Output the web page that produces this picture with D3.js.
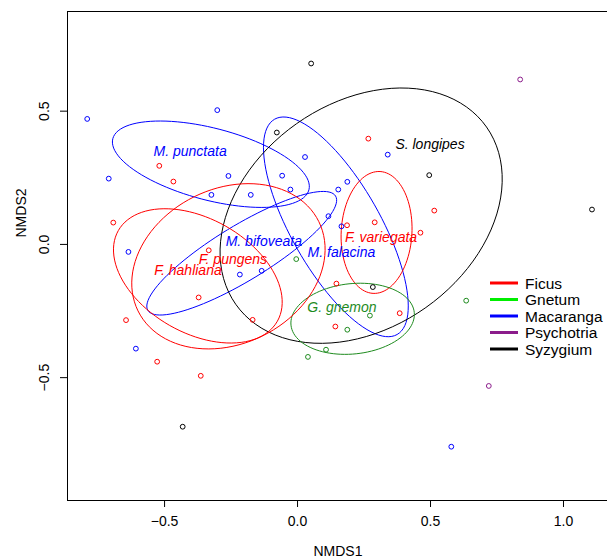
<!DOCTYPE html>
<html>
<head>
<meta charset="utf-8">
<script src="https://cdn.jsdelivr.net/npm/d3@7"></script>
<style>
  body { margin: 0; background: #fff; }
  text { font-family: "Liberation Sans", Arial, Helvetica, sans-serif; }
</style>
</head>
<body>
<div id="chart"></div>
<script>
// NMDS site scores, one array per genus: [NMDS1, NMDS2]
const ficus = [
  [-0.518, 0.293], [-0.465, 0.234], [-0.691, 0.080], [-0.332, -0.024],
  [-0.370, -0.201], [-0.643, -0.286], [-0.167, -0.285], [-0.526, -0.442],
  [-0.362, -0.495], [0.268, 0.395], [0.516, 0.125], [0.188, 0.070],
  [0.292, 0.081], [0.464, 0.042], [0.148, -0.149], [0.386, -0.260], [0.144, -0.310]
];
const gnetum = [
  [-0.003, -0.057], [0.636, -0.213], [0.274, -0.269], [0.189, -0.322],
  [0.109, -0.397], [0.041, -0.424]
];
const macaranga = [
  [-0.789, 0.469], [-0.300, 0.502], [-0.708, 0.245], [0.030, 0.326],
  [0.341, 0.335], [-0.258, 0.255], [-0.056, 0.256], [-0.322, 0.184],
  [-0.174, 0.184], [-0.025, 0.204], [0.155, 0.204], [0.189, 0.233],
  [0.118, 0.104], [0.167, 0.066], [-0.634, -0.030], [-0.215, -0.115],
  [-0.133, -0.101], [-0.606, -0.393], [0.580, -0.761]
];
const psychotria = [[0.839, 0.617], [0.721, -0.533]];
const syzygium = [
  [0.053, 0.677], [-0.076, 0.418], [0.497, 0.258], [1.109, 0.129],
  [0.285, -0.162], [-0.430, -0.686]
];

const genera = ["Ficus", "Gnetum", "Macaranga", "Psychotria", "Syzygium"];
const genusPoints = [ficus, gnetum, macaranga, psychotria, syzygium];
const pointColors = ["#ff0000", "#1e8b1e", "#0000ff", "#8b1c8b", "#000000"];
const legendColors = ["#ff0000", "#00ee00", "#0000ff", "#8b1c8b", "#000000"];

// species ellipses (ordiellipse): centre, semi-axes, rotation in degrees
const species = ["M. punctata", "M. bifoveata", "M. falacina", "S. longipes",
  "F. variegata", "G. gnemon", "F. pungens", "F. hahliana"];
const speciesGenus = [2, 2, 2, 4, 0, 1, 0, 0];
const ellCX = [-0.324, -0.208, 0.146, 0.241, 0.299, 0.209, -0.258, -0.373];
const ellCY = [0.299, -0.035, 0.064, 0.106, 0.043, -0.281, -0.084, -0.120];
const ellA = [0.381, 0.413, 0.465, 0.577, 0.229, 0.233, 0.379, 0.344];
const ellB = [0.135, 0.103, 0.167, 0.422, 0.133, 0.132, 0.291, 0.214];
const ellAngle = [-14.6, 31.3, -60.3, 35.2, 86.7, 5.9, 26.2, -29.6];
const labelX = [-0.402, -0.125, 0.167, 0.500, 0.316, 0.169, -0.241, -0.410];
const labelY = [0.350, 0.011, -0.030, 0.374, 0.025, -0.235, -0.057, -0.098];

const xTicks = [-0.5, 0, 0.5, 1.0];
const yTicks = [-0.5, 0, 0.5];

const width = 607, height = 560;
const plotLeft = 67, plotRight = 609, plotTop = 11, plotBottom = 500;

const x = d3.scaleLinear().domain([-0.865, 1.173]).range([plotLeft, plotRight]);
const y = d3.scaleLinear().domain([-0.961, 0.874]).range([plotBottom, plotTop]);

const svg = d3.select("#chart").append("svg")
  .attr("width", width).attr("height", height);

const fmt = d => d3.format(".1f")(d).replace("-", "\u2212");

// axes
const xAxis = svg.append("g")
  .attr("transform", `translate(0,${plotBottom})`)
  .call(d3.axisBottom(x).tickValues(xTicks).tickSize(7).tickPadding(9).tickFormat(fmt));
xAxis.select(".domain").remove();
xAxis.selectAll("text").attr("font-size", 14).attr("fill", "#000")
  .attr("font-family", "Liberation Sans, Arial, sans-serif");

const yAxis = svg.append("g")
  .attr("transform", `translate(${plotLeft},0)`)
  .call(d3.axisLeft(y).tickValues(yTicks).tickSize(7).tickFormat(fmt));
yAxis.select(".domain").remove();
yAxis.selectAll("text")
  .attr("font-size", 14).attr("fill", "#000")
  .attr("font-family", "Liberation Sans, Arial, sans-serif")
  .attr("text-anchor", "middle")
  .attr("dy", null)
  .attr("x", null)
  .attr("transform", "translate(-18,0) rotate(-90)")
  .attr("dominant-baseline", "auto");

// box
svg.append("rect")
  .attr("x", plotLeft + 0.5).attr("y", plotTop + 0.5)
  .attr("width", plotRight - plotLeft).attr("height", plotBottom - plotTop)
  .attr("fill", "none").attr("stroke", "#000");

svg.append("text")
  .attr("x", 338).attr("y", 556)
  .attr("text-anchor", "middle").attr("font-size", 14)
  .text("NMDS1");
svg.append("text")
  .attr("transform", "translate(26,213) rotate(-90)")
  .attr("text-anchor", "middle").attr("font-size", 14)
  .text("NMDS2");

// ellipses
const line = d3.line().x(d => x(d[0])).y(d => y(d[1]));
species.forEach((s, i) => {
  const phi = ellAngle[i] * Math.PI / 180;
  const pts = d3.range(0, 101).map(k => {
    const t = k / 100 * 2 * Math.PI;
    return [
      ellCX[i] + ellA[i] * Math.cos(t) * Math.cos(phi) - ellB[i] * Math.sin(t) * Math.sin(phi),
      ellCY[i] + ellA[i] * Math.cos(t) * Math.sin(phi) + ellB[i] * Math.sin(t) * Math.cos(phi)
    ];
  });
  svg.append("path")
    .attr("d", line(pts))
    .attr("fill", "none")
    .attr("stroke", pointColors[speciesGenus[i]])
    .attr("stroke-width", 1);
});

// points
genusPoints.forEach((pts, g) => {
  svg.append("g").selectAll("circle")
    .data(pts).enter().append("circle")
    .attr("cx", d => x(d[0]))
    .attr("cy", d => y(d[1]))
    .attr("r", 2.4)
    .attr("fill", "none")
    .attr("stroke", pointColors[g])
    .attr("stroke-width", 1);
});

// species labels
svg.append("g").selectAll("text")
  .data(species).enter().append("text")
  .attr("x", (d, i) => x(labelX[i]))
  .attr("y", (d, i) => y(labelY[i]))
  .attr("dy", "0.36em")
  .attr("text-anchor", "middle")
  .attr("font-size", 14)
  .attr("font-style", "italic")
  .attr("fill", (d, i) => pointColors[speciesGenus[i]])
  .text(d => d);

// legend
const legend = svg.append("g").attr("transform", "translate(490,283)");
genera.forEach((g, i) => {
  const row = legend.append("g").attr("transform", `translate(0,${i * 16.5})`);
  row.append("line")
    .attr("x1", 0).attr("x2", 28)
    .attr("stroke", legendColors[i]).attr("stroke-width", 3);
  row.append("text")
    .attr("x", 35).attr("dy", "0.36em")
    .attr("font-size", 15.5)
    .text(g);
});
</script>
</body>
</html>
